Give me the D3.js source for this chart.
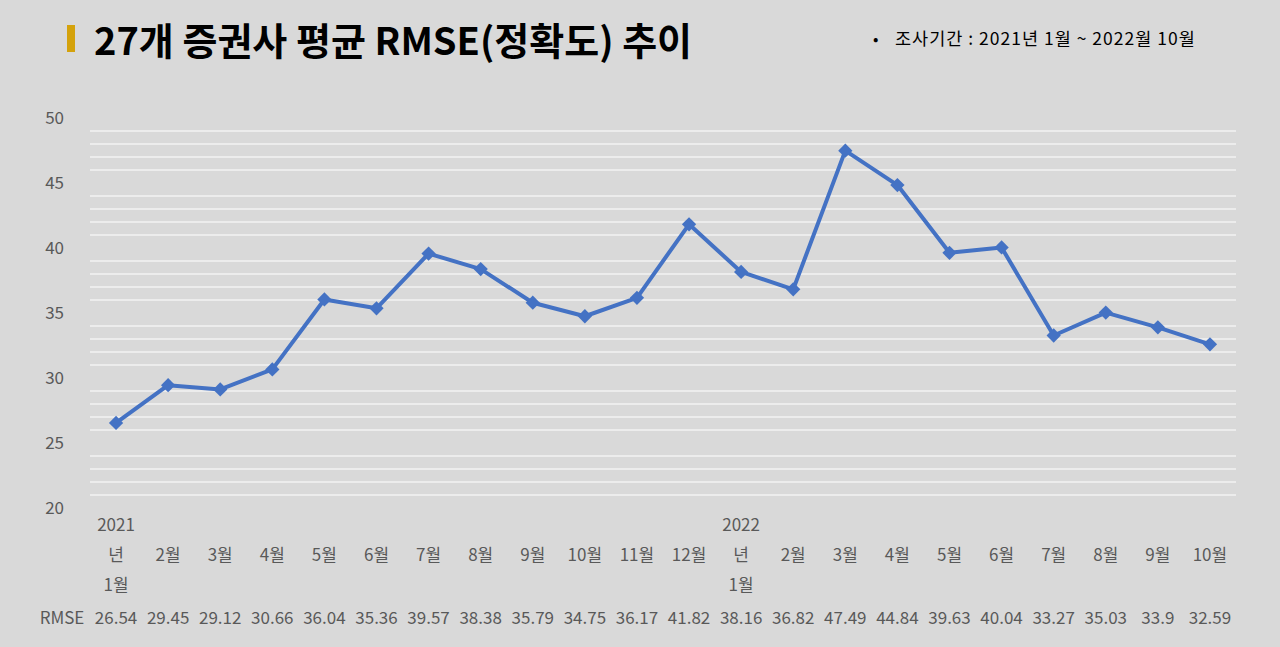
<!DOCTYPE html>
<html>
<head>
<meta charset="utf-8">
<script src="https://cdn.jsdelivr.net/npm/d3@7"></script>
<style>
  body { margin: 0; background: #d9d9d9; }
  svg { display: block; font-family: "Noto Sans CJK KR", "Noto Sans", sans-serif; }
</style>
</head>
<body>
<div class="chart"></div>
<script>
// months (label lines wrapped like the original axis)
const months = ["2021년 1월", "2월", "3월", "4월", "5월", "6월", "7월", "8월", "9월", "10월", "11월", "12월",
                "2022년 1월", "2월", "3월", "4월", "5월", "6월", "7월", "8월", "9월", "10월"];
const rmse = [26.54, 29.45, 29.12, 30.66, 36.04, 35.36, 39.57, 38.38, 35.79, 34.75, 36.17, 41.82,
              38.16, 36.82, 47.49, 44.84, 39.63, 40.04, 33.27, 35.03, 33.9, 32.59];
const yTicks = [20, 25, 30, 35, 40, 45, 50];
const seriesName = "RMSE";

const width = 1280;
const height = 647;
const svg = d3.select('.chart')
    .append('svg')
    .attr('width', width)
    .attr('height', height);

svg.append('rect').attr('width', width).attr('height', height).attr('fill', '#d9d9d9');

// title
svg.append('rect')
    .attr('x', 67).attr('y', 25)
    .attr('width', 8).attr('height', 27)
    .attr('fill', '#d4a20c');
svg.append('text')
    .attr('x', 94).attr('y', 55)
    .attr('font-size', 38)
    .attr('font-weight', 'bold')
    .attr('fill', '#000')
    .text("27개 증권사 평균 RMSE(정확도) 추이");

svg.append('text')
    .attr('x', 873).attr('y', 45)
    .attr('font-size', 16)
    .attr('fill', '#000')
    .text("•");
svg.append('text')
    .attr('x', 895).attr('y', 45)
    .attr('font-size', 17.5)
    .attr('letter-spacing', 1)
    .attr('fill', '#000')
    .text("조사기간 : 2021년 1월 ~ 2022월 10월");

var x = d3.scaleBand().domain(d3.range(months.length)).range([90, 1236]);
var y = d3.scaleLinear().domain([20, 50]).range([508, 118]);

// minor grid lines (every 1, major ones are not drawn)
const gridVals = d3.range(21, 50).filter(v => v % 5 != 0);
svg.selectAll('.grid')
    .data(gridVals)
    .enter()
    .append('line')
    .attr('class', 'grid')
    .attr('x1', 90).attr('x2', 1236)
    .attr('y1', d => y(d)).attr('y2', d => y(d))
    .attr('stroke', '#f2f2f2')
    .attr('stroke-width', 1.5);

// y axis labels
svg.selectAll('.ylab')
    .data(yTicks)
    .enter()
    .append('text')
    .attr('class', 'ylab')
    .attr('x', 64)
    .attr('y', d => y(d))
    .attr('dy', '0.35em')
    .attr('text-anchor', 'end')
    .attr('font-size', 17)
    .attr('fill', '#595959')
    .text(d => d);

// line + markers
const cx = i => x(i) + x.bandwidth() / 2;
const line = d3.line().x((d, i) => cx(i)).y(d => y(d));
svg.append('path')
    .datum(rmse)
    .attr('d', line)
    .attr('fill', 'none')
    .attr('stroke', '#4472c4')
    .attr('stroke-width', 4)
    .attr('stroke-linejoin', 'round');

svg.selectAll('.mark')
    .data(rmse)
    .enter()
    .append('path')
    .attr('class', 'mark')
    .attr('d', d3.symbol().type(d3.symbolDiamond2).size(130))
    .attr('transform', (d, i) => `translate(${cx(i)},${y(d)})`)
    .attr('fill', '#4472c4');

// category labels (wrapped)
const wrap = s => {
    let m = s.match(/^(\d{4})(년) (.*)$/);
    return m ? [m[1], m[2], m[3]] : [s];
};
const labG = svg.selectAll('.xlab')
    .data(months)
    .enter()
    .append('text')
    .attr('class', 'xlab')
    .attr('text-anchor', 'middle')
    .attr('font-size', 17)
    .attr('fill', '#595959');
labG.each(function(d, i) {
    const lines = wrap(d);
    const t = d3.select(this);
    lines.forEach((l, k) => {
        t.append('tspan')
            .attr('x', cx(i))
            .attr('y', 555 + (k - (lines.length - 1) / 2) * 30)
            .attr('dy', '0.35em')
            .text(l);
    });
});

// data table row
svg.append('text')
    .attr('x', 62).attr('y', 618)
    .attr('dy', '0.35em')
    .attr('text-anchor', 'middle')
    .attr('font-size', 17)
    .attr('fill', '#595959')
    .text(seriesName);
svg.selectAll('.val')
    .data(rmse)
    .enter()
    .append('text')
    .attr('class', 'val')
    .attr('x', (d, i) => cx(i))
    .attr('y', 618)
    .attr('dy', '0.35em')
    .attr('text-anchor', 'middle')
    .attr('font-size', 17)
    .attr('fill', '#595959')
    .text(d => d);
</script>
</body>
</html>
